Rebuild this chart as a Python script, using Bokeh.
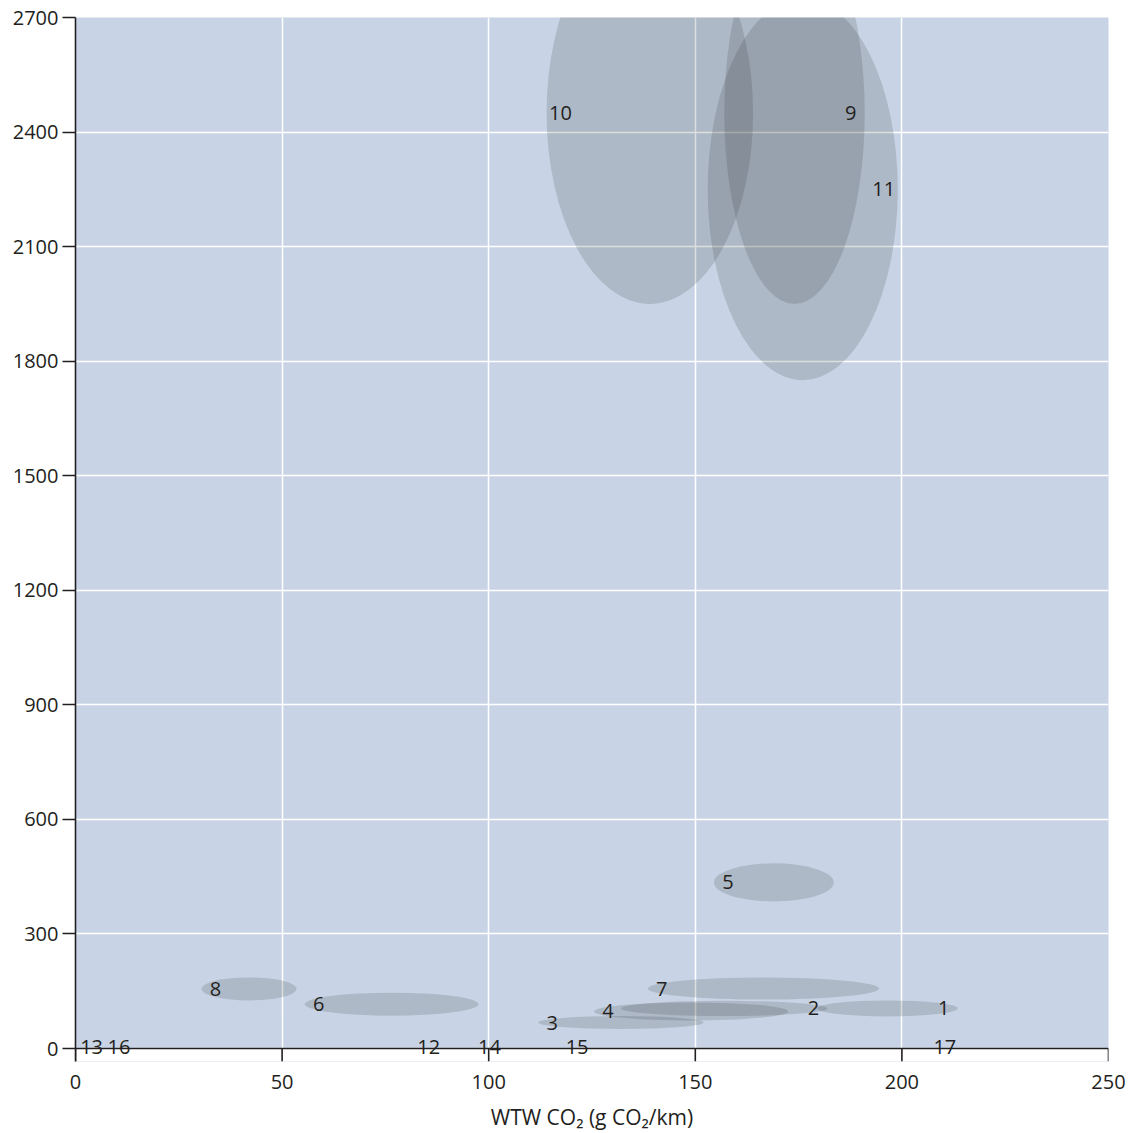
from bokeh.plotting import figure
from bokeh.models import ColumnDataSource, FixedTicker, BoxAnnotation, Span
from bokeh.core.properties import value
from bokeh.embed import file_html
from bokeh.resources import INLINE

# ---- data ----
ellipse_ids = ["1", "2", "3", "4", "5", "6", "7", "8", "9", "10", "11"]
center_co2 = [196.5, 157, 132, 149, 169, 76.5, 166.5, 42, 174, 139, 176]
center_y = [105, 105, 68, 97, 435, 116, 157, 156, 2450, 2450, 2250]
width_co2 = [34, 50, 40, 47, 29, 42, 56, 23, 34, 50, 46]
height_y = [42, 40, 34, 47, 100, 60, 58, 60, 1000, 1000, 1000]
label_side = ["R", "R", "L", "L", "L", "L", "L", "L", "R", "L", "R"]

zero_ids = ["13", "16", "12", "14", "15", "17"]
zero_co2 = [3.9, 10.5, 85.5, 100.2, 121.4, 210.4]
zero_y = [0, 0, 0, 0, 0, 0]

x_ticks = [0, 50, 100, 150, 200, 250]
y_ticks = [0, 300, 600, 900, 1200, 1500, 1800, 2100, 2400, 2700]

FONT = "Open Sans"
INK = "#231f20"

# layout: plot area of 1031 px for 0..2700, plus a 13 px strip below 0 for the x ticks
Y_MAX = 2700
AREA_PX = 1031
TICK_PX = 13
y_floor = -Y_MAX * TICK_PX / AREA_PX

src = ColumnDataSource(dict(
    x=center_co2, y=center_y, w=width_co2, h=height_y, id=ellipse_ids,
    lx=[c - w / 2 if s == "L" else c + w / 2 for c, w, s in zip(center_co2, width_co2, label_side)],
    off=[14 if s == "L" else -14 for s in label_side],
))
zsrc = ColumnDataSource(dict(x=zero_co2, y=zero_y, id=zero_ids))
tsrc = ColumnDataSource(dict(x=x_ticks, y0=[0] * len(x_ticks), y1=[y_floor] * len(x_ticks)))

p = figure(
    width=1128, height=1133,
    x_range=(0, 250), y_range=(y_floor, Y_MAX),
    output_backend="svg", toolbar_location=None,
    min_border_left=75, min_border_right=20, min_border_top=17, min_border_bottom=72,
)
p.background_fill_color = "#c8d4e5"
p.border_fill_color = "white"
p.outline_line_color = None

p.xgrid.ticker = FixedTicker(ticks=x_ticks)
p.ygrid.ticker = FixedTicker(ticks=y_ticks)
p.grid.grid_line_color = "white"
p.grid.grid_line_width = 1.5

# white strip below the zero line (covers background and grid)
p.add_layout(BoxAnnotation(top=0, fill_color="white", fill_alpha=1.0,
                           line_color=None, level="underlay"))

p.ellipse(x="x", y="y", width="w", height="h", source=src,
          fill_color="#2f3338", fill_alpha=0.17, line_color=None)

p.text(x="lx", y="y", text="id", source=src, x_offset="off",
       text_align="center", text_baseline="middle",
       text_font=value(FONT), text_font_size="20px", text_color=INK)

# x axis line at zero and its ticks
p.add_layout(Span(location=0, dimension="width", line_color=INK, line_width=1.6))
p.segment(x0="x", y0="y0", x1="x", y1="y1", source=tsrc, line_color=INK, line_width=1.6)

p.text(x="x", y="y", text="id", source=zsrc, y_offset=-2,
       text_align="center", text_baseline="middle",
       text_font=value(FONT), text_font_size="20px", text_color=INK)

for ax in (p.xaxis, p.yaxis):
    ax.minor_tick_line_color = None
    ax.major_label_text_font = FONT
    ax.major_label_text_font_size = "20px"
    ax.major_label_text_color = INK

p.yaxis.axis_line_color = INK
p.yaxis.axis_line_width = 1.6
p.yaxis.major_tick_line_color = INK
p.yaxis.major_tick_line_width = 1.6
p.yaxis.major_tick_out = 13
p.yaxis.major_tick_in = 0
p.yaxis.major_label_standoff = 4
p.yaxis.ticker = FixedTicker(ticks=y_ticks)

p.xaxis.axis_line_color = None
p.xaxis.major_tick_line_color = None
p.xaxis.major_tick_out = 0
p.xaxis.major_tick_in = 0
p.xaxis.ticker = FixedTicker(ticks=x_ticks)
p.xaxis.major_label_standoff = 13
p.xaxis.axis_label = "WTW CO₂ (g CO₂/km)"
p.xaxis.axis_label_text_font = FONT
p.xaxis.axis_label_text_font_size = "21px"
p.xaxis.axis_label_text_font_style = "normal"
p.xaxis.axis_label_text_color = INK
p.xaxis.axis_label_standoff = 11

open("out.html", "w").write(file_html(p, INLINE))
